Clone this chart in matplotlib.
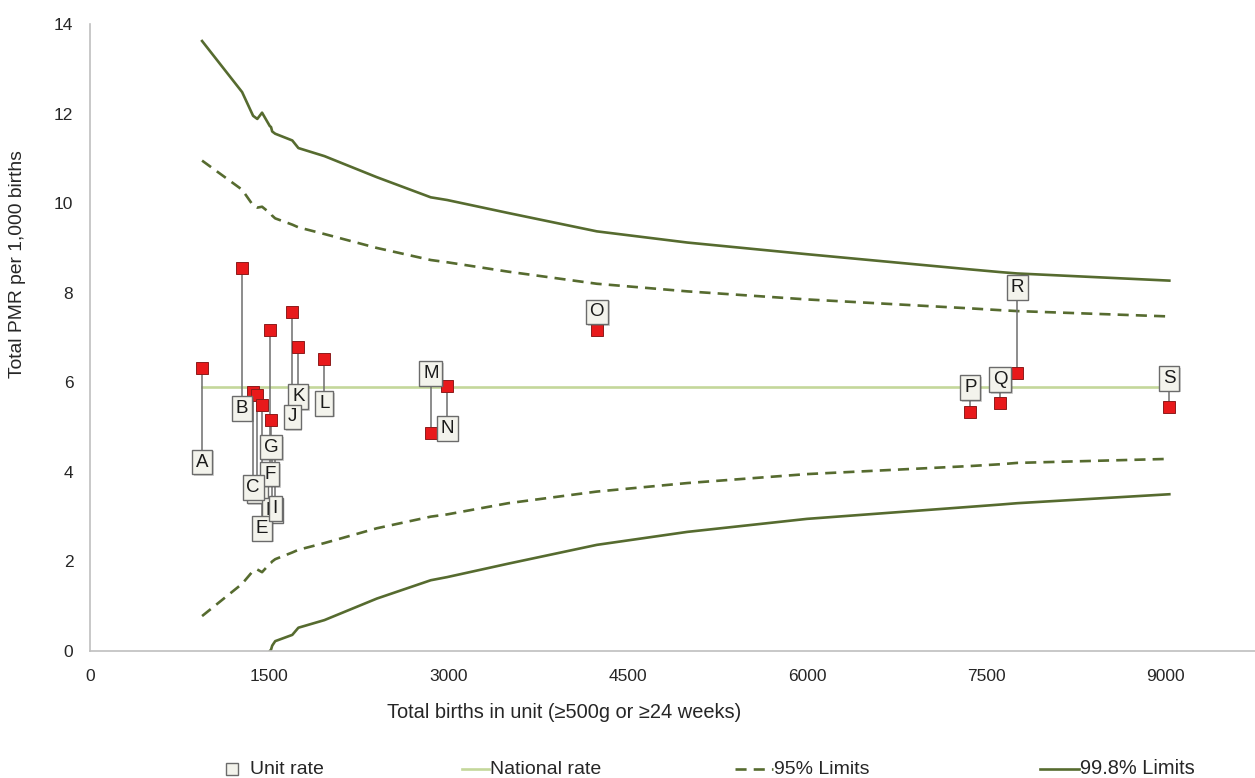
import matplotlib
matplotlib.use("Agg")
import matplotlib.pyplot as plt
import matplotlib.patheffects as pe
from matplotlib.lines import Line2D
import numpy as np

plt.rcParams['font.family'] = ['Liberation Sans', 'DejaVu Sans']

# units, their births, adjusted rate (red) and unit rate (label box)
units = ["A", "B", "C", "D", "E", "F", "G", "H", "I", "J",
         "K", "L", "M", "N", "O", "P", "Q", "R", "S"]
births = [938, 1273, 1365, 1400, 1440, 1505, 1515, 1525, 1550, 1693,
          1744, 1962, 2852, 2989, 4242, 7368, 7619, 7759, 9033]
red_rate = [6.32, 8.55, 5.79, 5.72, 5.49, 7.17, 5.16, 4.50, 4.42, 7.57,
            6.78, 6.53, 4.86, 5.92, 7.17, 5.34, 5.54, 6.21, 5.45]
unit_rate = [4.22, 5.42, 3.65, 3.58, 2.74, 3.95, 4.55, 3.14, 3.18, 5.23,
             5.68, 5.53, 6.20, 4.97, 7.57, 5.88, 6.06, 8.12, 6.09]

# order the label boxes are stacked in (last one ends up on top)
label_order = ["D", "H", "F", "K", "A", "B", "E", "I", "C", "G",
               "J", "L", "M", "N", "O", "P", "Q", "R", "S"]

national_rate = 5.9

# funnel limits evaluated at these birth counts
funnel_births = [938, 1273, 1365, 1400, 1440, 1505, 1515, 1525, 1550, 1693,
                 1744, 1962, 2400, 2852, 2989, 3500, 4242, 5000, 6000,
                 7368, 7619, 7759, 9033]
upper_998 = [13.62, 12.48, 11.95, 11.88, 12.02, 11.72, 11.70, 11.60, 11.55, 11.40,
             11.23, 11.05, 10.58, 10.13, 10.07, 9.78, 9.37, 9.12, 8.86,
             8.52, 8.46, 8.43, 8.27]
upper_95 = [10.95, 10.30, 9.95, 9.90, 9.92, 9.78, 9.77, 9.72, 9.66, 9.52,
            9.46, 9.31, 9.00, 8.73, 8.68, 8.47, 8.20, 8.03, 7.85,
            7.65, 7.61, 7.59, 7.47]
lower_95 = [0.78, 1.50, 1.79, 1.82, 1.76, 1.95, 1.97, 2.00, 2.05, 2.20,
            2.26, 2.41, 2.74, 3.00, 3.05, 3.30, 3.56, 3.75, 3.95,
            4.13, 4.17, 4.20, 4.29]
lower_998 = [np.nan, np.nan, np.nan, np.nan, np.nan, 0.0, 0.03, 0.12, 0.22, 0.36,
             0.52, 0.69, 1.17, 1.58, 1.65, 1.95, 2.37, 2.66, 2.95,
             3.22, 3.27, 3.30, 3.50]

olive = "#566b2f"
light_green = "#c4d79b"
txt = "#262626"
dash = (4.2, 2.7)

fig = plt.figure(figsize=(12.55, 7.78), dpi=100)
ax = fig.add_axes([90 / 1255, 1 - 651 / 778, 1 - 90 / 1255, (651 - 24) / 778])

ax.plot(funnel_births, upper_998, color=olive, lw=1.9, zorder=2)
ax.plot(funnel_births, lower_998, color=olive, lw=1.9, zorder=2)
ax.plot(funnel_births, upper_95, color=olive, lw=1.9, dashes=dash, zorder=2)
ax.plot(funnel_births, lower_95, color=olive, lw=1.9, dashes=dash, zorder=2)
ax.plot([min(births), max(births)], [national_rate, national_rate],
        color=light_green, lw=1.9, zorder=2)

# leader lines between the two rates of each unit
ax.vlines(births, red_rate, unit_rate, color="#6e6e6e", lw=1.1, zorder=3)
ax.plot(births, red_rate, ls="none", marker="s", ms=8.8, mfc="#e8191b",
        mec="#8c1c1c", mew=0.7, zorder=4)

for k, name in enumerate(label_order):
    i = units.index(name)
    t = ax.text(births[i], unit_rate[i], name, ha="center", va="center",
                fontsize=13.5, color="#1a1a1a", zorder=5 + k * 0.01,
                bbox=dict(boxstyle="square,pad=0.2", fc="#f3f3ec", ec="#6b6b6b", lw=1.0))
    t.get_bbox_patch().set_path_effects(
        [pe.SimplePatchShadow(offset=(1.2, -1.2), alpha=0.25), pe.Normal()])

ax.set_xlim(0, 9750)
ax.set_ylim(0, 14)
ax.set_xticks([0, 1500, 3000, 4500, 6000, 7500, 9000])
ax.set_yticks(np.arange(0, 15, 2))
ax.tick_params(length=0, labelsize=12.5, labelcolor=txt)
ax.tick_params(axis="x", pad=13)
ax.tick_params(axis="y", pad=12)
for side in ("top", "right"):
    ax.spines[side].set_visible(False)
for side in ("left", "bottom"):
    ax.spines[side].set_color("#bfbfbf")
    ax.spines[side].set_linewidth(1.2)

fig.text(18 / 1255, 1 - 264 / 778, "Total PMR per 1,000 births", rotation=90,
         ha="center", va="center", fontsize=13.9, color=txt)
fig.text(564 / 1255, 1 - 712 / 778, "Total births in unit (\u2265500g or \u226524 weeks)",
         ha="center", va="center", fontsize=14.4, color=txt)

# legend along the bottom
ly = 1 - 769 / 778
fig.add_artist(Line2D([232 / 1255], [ly], marker="s", ms=8, mfc="#f3f3ec",
                      mec="#6b6b6b", mew=1.0, ls="none"))
fig.text(250 / 1255, ly, "Unit rate", va="center", fontsize=14, color=txt)
fig.add_artist(Line2D([462 / 1255, 489 / 1255], [ly, ly], color=light_green, lw=1.9))
fig.text(490 / 1255, ly, "National rate", va="center", fontsize=14, color=txt)
fig.add_artist(Line2D([735 / 1255, 773 / 1255], [ly, ly], color=olive, lw=1.9,
                      dashes=dash))
fig.text(774 / 1255, ly, "95% Limits", va="center", fontsize=14, color=txt)
fig.add_artist(Line2D([1040 / 1255, 1079 / 1255], [ly, ly], color=olive, lw=1.9))
fig.text(1080 / 1255, ly, "99.8% Limits", va="center", fontsize=14.4, color=txt)

fig.savefig("out.png", dpi=100)
